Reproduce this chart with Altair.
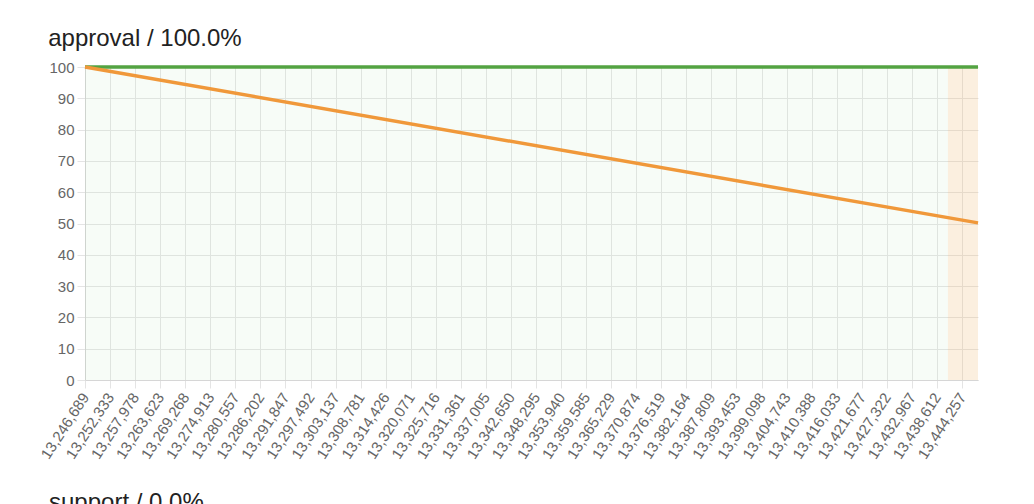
import altair as alt
import pandas as pd

# ---- data ----
tick_blocks = [13246689, 13252333, 13257978, 13263623, 13269268, 13274913,
               13280557, 13286202, 13291847, 13297492, 13303137, 13308781,
               13314426, 13320071, 13325716, 13331361, 13337005, 13342650,
               13348295, 13353940, 13359585, 13365229, 13370874, 13376519,
               13382164, 13387809, 13393453, 13399098, 13404743, 13410388,
               13416033, 13421677, 13427322, 13432967, 13438612, 13444257]
y_ticks = [0, 10, 20, 30, 40, 50, 60, 70, 80, 90, 100]

line_blocks = [13246689, 13447860]
approval_pct = [100.0, 100.0]
threshold_pct = [100.0, 50.2]

phase_names = ["voting", "late"]
phase_start = [13246689, 13441080]
phase_end = [13441080, 13447860]
phase_colors = ["#4caf50", "#e8a040"]
phase_opacity = [0.045, 0.17]

title_text = "approval / 100.0%"
next_title = "support / 0.0%"

X_MIN, X_MAX = 13246689, 13447860
W, H = 893, 313
FONT = "Liberation Sans"

# ---- tables ----
lines_df = pd.DataFrame({
    "block": line_blocks * 2,
    "value": approval_pct + threshold_pct,
    "series": ["approval"] * len(line_blocks) + ["threshold"] * len(line_blocks),
})
phase_df = pd.DataFrame({"phase": phase_names, "start": phase_start,
                         "end": phase_end, "op": phase_opacity})
note_df = pd.DataFrame({"label": [next_title]})

x_scale = alt.Scale(domain=[X_MIN, X_MAX], nice=False, zero=False)
y_scale = alt.Scale(domain=[0, 100], nice=False, zero=True)

x_axis = alt.Axis(
    values=tick_blocks, format=",d", labelAngle=-57, labelAlign="right",
    labelBaseline="middle", labelFontSize=15, labelColor="#666666",
    labelFont=FONT, labelPadding=6, labelOverlap=False, tickSize=8,
    tickColor="#e4e4e4", gridColor="#e6e6e6", domainColor="#d6d6d6",
    title=None, labelFlush=False)
y_axis = alt.Axis(
    values=y_ticks, labelFontSize=15, labelColor="#666666", labelFont=FONT,
    labelPadding=3, tickSize=8, tickColor="#e4e4e4", gridColor="#e6e6e6",
    domainColor="#d6d6d6", title=None, labelFlush=False)

bands = alt.Chart(phase_df).mark_rect().encode(
    x=alt.X("start:Q", scale=x_scale, axis=x_axis),
    x2="end:Q",
    y=alt.value(0),
    y2=alt.value(H),
    color=alt.Color("phase:N", scale=alt.Scale(domain=phase_names, range=phase_colors), legend=None),
    opacity=alt.Opacity("op:Q", scale=None, legend=None),
)

lines = alt.Chart(lines_df).mark_line(strokeWidth=3.5, clip=False).encode(
    x=alt.X("block:Q", scale=x_scale, axis=x_axis),
    y=alt.Y("value:Q", scale=y_scale, axis=y_axis),
    color=alt.Color("series:N", scale=alt.Scale(domain=["approval", "threshold"],
                                                range=["#53a342", "#f0983a"]), legend=None),
    order=alt.Order("series:N"),
)

note = alt.Chart(note_df).mark_text(align="left", baseline="alphabetic", fontSize=24,
                                    font=FONT, color="#222222").encode(
    text="label:N", x=alt.value(-36), y=alt.value(443))

chart = alt.layer(bands, lines, note).resolve_scale(color="independent").properties(
    width=W, height=H,
    title=alt.TitleParams(title_text, anchor="start", fontSize=24, font=FONT,
                          fontWeight="normal", color="#222222", dx=10, offset=9),
    autosize=alt.AutoSizeParams(type="none"),
    padding={"left": 77, "top": 59, "right": 48, "bottom": 124},
).configure_view(stroke=None)

chart.save("out.html", embed_options={"renderer": "svg", "actions": False})
